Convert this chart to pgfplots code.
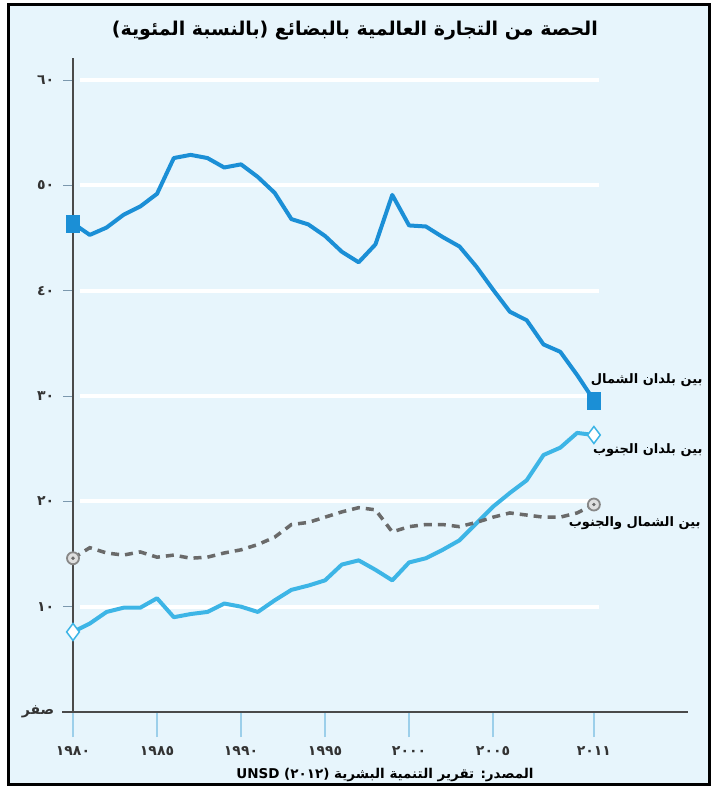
\documentclass[border=0pt]{standalone}
\usepackage{pgfplots}
\usepackage{pgfplotstable}
\pgfplotsset{compat=1.18}
\usepackage{fontspec}
\setmainfont{DejaVu Sans}
\newfontfamily\arabicfont[Script=Arabic]{DejaVu Sans}
\TeXXeTstate=1
\definecolor{bgblue}{HTML}{E7F5FC}
\definecolor{nnblue}{HTML}{1B8FD6}
\definecolor{ssblue}{HTML}{3DB5E6}
\definecolor{nsgray}{HTML}{6A6A6A}
\definecolor{xtickc}{HTML}{9CCFEA}
\definecolor{ytickc}{HTML}{7B98AE}
\definecolor{axisc}{HTML}{4A4A4A}

\pgfplotstableread{
year nn ss ns
1980 46.4 7.6 14.6
1981 45.3 8.4 15.6
1982 46.0 9.5 15.1
1983 47.2 9.9 14.9
1984 48.0 9.9 15.2
1985 49.2 10.8 14.7
1986 52.6 9.0 14.9
1987 52.9 9.3 14.6
1988 52.6 9.5 14.7
1989 51.7 10.3 15.1
1990 52.0 10.0 15.4
1991 50.8 9.5 15.9
1992 49.3 10.6 16.6
1993 46.8 11.6 17.8
1994 46.3 12.0 18.0
1995 45.2 12.5 18.5
1996 43.7 14.0 19.0
1997 42.7 14.4 19.4
1998 44.4 13.5 19.2
1999 49.1 12.5 17.1
2000 46.2 14.2 17.6
2001 46.1 14.6 17.8
2002 45.1 15.4 17.8
2003 44.2 16.3 17.6
2004 42.3 17.9 18.0
2005 40.1 19.5 18.5
2006 38.0 20.8 18.9
2007 37.2 22.0 18.7
2008 34.9 24.4 18.5
2009 34.2 25.1 18.5
2010 32.0 26.5 18.9
2011 29.6 26.3 19.7
}\datatable

\begin{document}
\begin{tikzpicture}[x=1pt,y=1pt]
\fill[white] (0,0) rectangle (717,792);
\draw[black, line width=3pt, fill=bgblue] (8,7) rectangle (709,787);
\begin{axis}[
  scale only axis, width=615pt, height=654pt,
  at={(73pt,80pt)}, anchor=south west,
  xmin=1980, xmax=2016.6, ymin=0, ymax=62.1,
  axis line style={draw=none},
  clip=false,
  xtick={1980,1985,1990,1995,2000,2005,2011},
  xticklabels={١٩٨٠,١٩٨٥,١٩٩٠,١٩٩٥,٢٠٠٠,٢٠٠٥,٢٠١١},
  ytick={0,10,20,30,40,50,60},
  yticklabels={\beginR صفر\endR,١٠,٢٠,٣٠,٤٠,٥٠,٦٠},
  xtick pos=bottom, ytick pos=left,
  tick align=outside,
  xtick style={draw=xtickc, line width=1.2pt, /pgfplots/major tick length=25pt},
  ytick style={draw=ytickc, line width=1pt, /pgfplots/major tick length=10pt},
  ticklabel style={font=\arabicfont\bfseries\fontsize{14}{16}\selectfont, text=black!80},
  xticklabel style={yshift=-27pt},
  yticklabel style={xshift=-11pt},
]
\pgfplotsinvokeforeach{10,20,30,40,50,60}{
  \draw[white, line width=4pt] (axis cs:1980.4,#1) -- (axis cs:2011.3,#1);
}
\draw[axisc, line width=1.5pt] (axis cs:1980,0) -- (axis cs:1980,62.1);
\draw[axisc, line width=1.8pt] (axis cs:1979.35,0) -- (axis cs:2016.6,0);

\addplot[nnblue, line width=4pt, line join=round] table[x=year,y=nn]{\datatable};
\addplot[ssblue, line width=4pt, line join=round] table[x=year,y=ss]{\datatable};
\addplot[nsgray, line width=3.5pt, dash pattern=on 8pt off 6pt] table[x=year,y=ns]{\datatable};

\addplot[only marks, mark=square*, mark size=6.5pt, color=nnblue, mark options={yscale=1.3}] coordinates {(1980,46.4) (2011,29.6)};
\addplot[only marks, mark=diamond*, mark size=8.5pt, mark options={draw=ssblue, fill=white, line width=1.5pt}] coordinates {(1980,7.6) (2011,26.3)};
\addplot[only marks, mark=*, mark size=6pt, mark options={draw=nsgray!80, fill=gray!25, line width=1.8pt}] coordinates {(1980,14.6) (2011,19.7)};
\addplot[only marks, mark=*, mark size=1.5pt, color=nsgray] coordinates {(1980,14.6) (2011,19.7)};
\end{axis}
\node[font=\arabicfont\bfseries\fontsize{19}{22}\selectfont] at (355,761) {\beginR الحصة من التجارة العالمية بالبضائع (بالنسبة المئوية)\endR};
\node[font=\arabicfont\bfseries\fontsize{13.5}{16}\selectfont] at (385,17) {\beginR المصدر: تقرير التنمية البشرية (٢٠١٢) \beginL UNSD\endL\endR};
\node[anchor=east, font=\arabicfont\bfseries\fontsize{13}{15}\selectfont] at (706,412) {\beginR بين بلدان الشمال\endR};
\node[anchor=east, font=\arabicfont\bfseries\fontsize{13}{15}\selectfont] at (706,342) {\beginR بين بلدان الجنوب\endR};
\node[anchor=east, font=\arabicfont\bfseries\fontsize{13}{15}\selectfont] at (704,269) {\beginR بين الشمال والجنوب\endR};
\end{tikzpicture}
\end{document}
